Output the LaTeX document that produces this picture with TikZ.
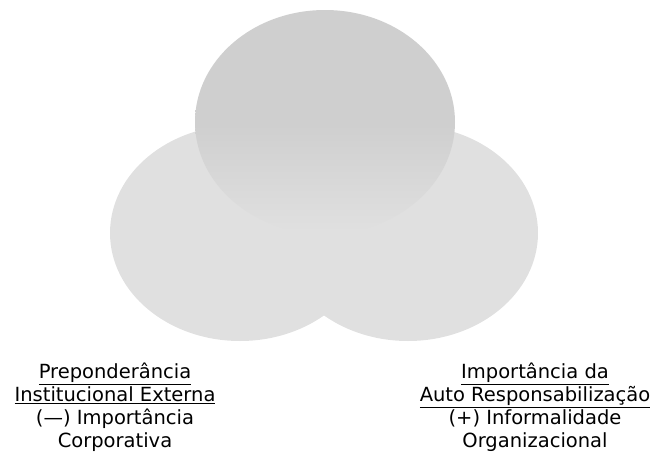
\documentclass[tikz,border=0pt]{standalone}
\usepackage{fontspec}
\setmainfont{DejaVu Sans}
\definecolor{lobegray}{gray}{0.88}
\definecolor{topgray}{gray}{0.81}
\tikzset{
  lobe/.style={fill=lobegray, draw=none},
  toplobe/.style={top color=topgray, bottom color=lobegray, middle color=topgray, draw=none},
  caption/.style={align=center, inner sep=0pt, font=\fontsize{19.5}{23}\selectfont}
}
\begin{document}
\begin{tikzpicture}[x=1pt,y=-1pt]
\useasboundingbox (0,0) rectangle (653,455);
\fill[lobe] (240,233) ellipse [x radius=130pt, y radius=108pt];
\fill[lobe] (408,233) ellipse [x radius=130pt, y radius=108pt];
\shade[toplobe] (325,122) ellipse [x radius=130pt, y radius=112pt];
\node[caption] (lblL) at (115,407.5) {\underline{Preponderância}\\\underline{Institucional Externa}\\(—) Importância\\Corporativa};
\node[caption] (lblR) at (535,407.5) {\underline{Importância da}\\\underline{Auto Responsabilização}\\(+) Informalidade\\Organizacional};
\end{tikzpicture}
\end{document}
